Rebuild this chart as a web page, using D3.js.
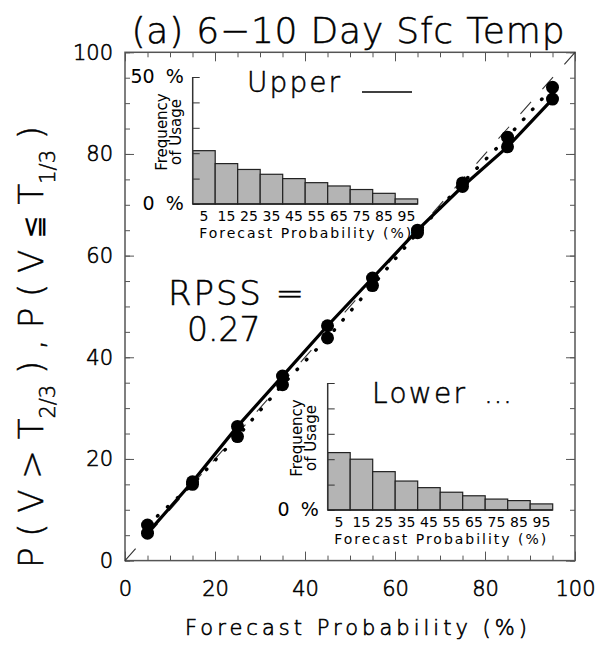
<!DOCTYPE html>
<html>
<head>
<meta charset="utf-8">
<script src="https://cdn.jsdelivr.net/npm/d3@7"></script>
<style>
  body { margin: 0; background: #fff; }
  svg { display: block; }
  text { font-family: "DejaVu Sans", sans-serif; font-weight: 400; fill: #000; }
  text.big { font-weight: 300; stroke: #000; stroke-width: 0.5px; }
</style>
</head>
<body>
<svg id="chart" width="603" height="653"></svg>
<script>
// forecast probability bins (%)
var bins = [5, 15, 25, 35, 45, 55, 65, 75, 85, 95];
// observed frequency, upper tercile (solid) and lower tercile (dotted)
var upperObs = [5.4, 15.5, 26.4, 36.3, 46.2, 55.6, 65.0, 73.6, 81.4, 90.8];
var lowerObs = [7.0, 15.0, 24.4, 34.6, 43.8, 54.1, 64.5, 74.3, 83.3, 93.1];
// frequency of usage (%) for each bin
var upperFreq = [21.0, 15.9, 13.6, 11.7, 10.0, 8.4, 7.1, 5.7, 4.2, 2.0];
var lowerFreq = [22.6, 20.0, 15.1, 11.4, 8.8, 7.0, 5.6, 4.3, 3.7, 2.4];
var mainTicks = [0, 20, 40, 60, 80, 100];
var insetTicks = [0, 10, 20, 30, 40, 50];

var svg = d3.select("#chart");
var axisCol = "#555";

var x = d3.scaleLinear().domain([0, 100]).range([125, 575]);
var y = d3.scaleLinear().domain([0, 100]).range([560.6, 52.3]);

// title
svg.append("text").attr("class", "big")
  .attr("x", 348).attr("y", 43)
  .attr("text-anchor", "middle")
  .attr("textLength", 433).attr("lengthAdjust", "spacing")
  .style("font-size", "36px")
  .text("(a) 6\u221210 Day Sfc Temp");

// frame
svg.append("rect")
  .attr("x", x(0)).attr("y", y(100))
  .attr("width", x(100) - x(0)).attr("height", y(0) - y(100))
  .attr("fill", "none").attr("stroke", axisCol).attr("stroke-width", 1.5);

function drawAxis(axis, tx, ty, labels) {
  var g = svg.append("g").attr("transform", "translate(" + tx + "," + ty + ")").call(axis);
  g.select(".domain").remove();
  g.selectAll(".tick line").attr("stroke", axisCol).attr("stroke-width", 1);
  if (labels) {
    g.selectAll(".tick text").attr("class", "big").style("font-size", "21px").attr("fill", "#000")
      .style("font-family", "DejaVu Sans").style("stroke-width", "0.6px");
  } else {
    g.selectAll(".tick text").remove();
  }
  return g;
}

var minor = d3.range(0, 101, 5);
drawAxis(d3.axisBottom(x).tickValues(minor).tickSize(-5), 0, y(0), false);
drawAxis(d3.axisBottom(x).tickValues(mainTicks).tickSize(-9).tickPadding(20), 0, y(0), true);
drawAxis(d3.axisTop(x).tickValues(minor).tickSize(-5), 0, y(100), false);
drawAxis(d3.axisTop(x).tickValues(mainTicks).tickSize(-9), 0, y(100), false);
drawAxis(d3.axisLeft(y).tickValues(minor).tickSize(-5), x(0), 0, false);
drawAxis(d3.axisLeft(y).tickValues(mainTicks).tickSize(-9).tickPadding(12), x(0), 0, true);
drawAxis(d3.axisRight(y).tickValues(minor).tickSize(-5), x(100), 0, false);
drawAxis(d3.axisRight(y).tickValues(mainTicks).tickSize(-9), x(100), 0, false);

// axis titles
svg.append("text").attr("class", "big")
  .attr("x", 356).attr("y", 635)
  .attr("text-anchor", "middle")
  .attr("textLength", 342).attr("lengthAdjust", "spacing")
  .style("font-size", "21px").style("stroke-width", "0.6px")
  .text("Forecast Probability (%)");

var yt = svg.append("text").attr("class", "big")
  .attr("transform", "translate(43,347) rotate(-90)")
  .attr("text-anchor", "middle")
  .style("font-size", "34px");
yt.append("tspan").text("P ( V > T");
yt.append("tspan").attr("baseline-shift", "sub").style("font-size", "21px").text("2/3");
yt.append("tspan").text(" ) , P ( V ");
yt.append("tspan").style("font-weight", 400).style("stroke-width", 0).style("font-size", "28px").text("\u2266");
yt.append("tspan").text(" T");
yt.append("tspan").attr("baseline-shift", "sub").style("font-size", "21px").text("1/3");
yt.append("tspan").text(" )");

// perfect reliability diagonal
var diag = svg.append("line")
  .attr("x1", x(0)).attr("y1", y(0)).attr("x2", x(100)).attr("y2", y(100))
  .attr("stroke", "#333").attr("stroke-width", 1.1);
var L = Math.hypot(x(100) - x(0), y(0) - y(100));
var dash = 16, period = (L - dash) / 20;
diag.attr("stroke-dasharray", dash + " " + (period - dash));

var line = d3.line().x(function(d) { return x(d[0]); }).y(function(d) { return y(d[1]); });
var upperPts = d3.zip(bins, upperObs);
var lowerPts = d3.zip(bins, lowerObs);

svg.append("path").datum(upperPts).attr("d", line)
  .attr("fill", "none").attr("stroke", "#000").attr("stroke-width", 3.2);
svg.append("path").datum(lowerPts).attr("d", line)
  .attr("fill", "none").attr("stroke", "#000").attr("stroke-width", 3.5)
  .attr("stroke-linecap", "round").attr("stroke-dasharray", "0.5 13");

svg.append("g").selectAll("circle").data(upperPts.concat(lowerPts)).enter()
  .append("circle")
  .attr("cx", function(d) { return x(d[0]); })
  .attr("cy", function(d) { return y(d[1]); })
  .attr("r", 6.5).attr("fill", "#000");

// RPSS
svg.append("text").attr("class", "big").attr("x", 168).attr("y", 305)
  .attr("textLength", 136).attr("lengthAdjust", "spacing")
  .style("font-size", "34px").text("RPSS =");
svg.append("text").attr("class", "big").attr("x", 187).attr("y", 341)
  .style("font-size", "33px").text("0.27");

// inset histograms
function inset(x0, yBottom, freq, showTop, label, labelX, labelY) {
  var bx = d3.scaleBand().domain(bins).range([x0, x0 + 225]).padding(0);
  var by = d3.scaleLinear().domain([0, 50]).range([yBottom, yBottom - 127]);
  var g = svg.append("g");

  g.selectAll("rect").data(freq).enter().append("rect")
    .attr("x", function(d, i) { return bx(bins[i]); })
    .attr("y", function(d) { return by(d); })
    .attr("width", bx.bandwidth())
    .attr("height", function(d) { return by(0) - by(d); })
    .attr("fill", "#b4b4b4").attr("stroke", "#222").attr("stroke-width", 1.2);

  var ax = g.append("g").attr("transform", "translate(" + x0 + ",0)")
    .call(d3.axisRight(by).tickValues(insetTicks).tickSize(7).tickFormat(""));
  ax.select(".domain").remove();
  ax.selectAll(".tick line").attr("stroke", "#333").attr("stroke-width", 1);
  g.append("line").attr("x1", x0).attr("x2", x0).attr("y1", by(0)).attr("y2", by(50))
    .attr("stroke", "#333").attr("stroke-width", 1.5);
  g.append("line").attr("x1", x0).attr("x2", x0 + 225).attr("y1", by(0)).attr("y2", by(0))
    .attr("stroke", "#222").attr("stroke-width", 1.5);

  g.selectAll(".binlab").data(bins).enter().append("text")
    .attr("x", function(d) { return bx(d) + bx.bandwidth() / 2; })
    .attr("y", by(0) + 17)
    .attr("text-anchor", "middle")
    .style("font-size", "14px")
    .text(function(d) { return d; });

  g.append("text").attr("x", x0 + 112.5).attr("y", by(0) + 34)
    .attr("text-anchor", "middle")
    .attr("textLength", 212).attr("lengthAdjust", "spacing")
    .style("font-size", "14px").text("Forecast Probability (%)");

  g.append("text").attr("x", x0 - 9).attr("y", by(0) + 6)
    .attr("text-anchor", "end").style("font-size", "19px").text("%");
  g.append("text").attr("x", x0 - 38).attr("y", by(0) + 6)
    .attr("text-anchor", "end").style("font-size", "19px").text("0");
  if (showTop) {
    g.append("text").attr("x", x0 - 9).attr("y", by(50) + 6)
      .attr("text-anchor", "end").style("font-size", "19px").text("%");
    g.append("text").attr("x", x0 - 38).attr("y", by(50) + 6)
      .attr("text-anchor", "end").style("font-size", "19px").text("50");
  }

  var fy = yBottom - 72;
  g.append("text").attr("transform", "translate(" + (x0 - 26) + "," + fy + ") rotate(-90)")
    .attr("text-anchor", "middle").style("font-size", "15px").text("Frequency");
  g.append("text").attr("transform", "translate(" + (x0 - 12) + "," + fy + ") rotate(-90)")
    .attr("text-anchor", "middle").style("font-size", "15px").text("of Usage");

  g.append("text").attr("class", "big").attr("x", labelX).attr("y", labelY)
    .attr("textLength", 93).attr("lengthAdjust", "spacing")
    .style("font-size", "28px").text(label);
}

inset(192.7, 204, upperFreq, true, "Upper", 247, 92);
inset(327.7, 510, lowerFreq, false, "Lower", 372, 403);

// legend marks
svg.append("line").attr("x1", 362).attr("x2", 412).attr("y1", 92).attr("y2", 92)
  .attr("stroke", "#000").attr("stroke-width", 1.3);
svg.append("text").attr("class", "big").attr("x", 484).attr("y", 403)
  .attr("textLength", 28).attr("lengthAdjust", "spacing")
  .style("font-size", "28px").text("...");
</script>
</body>
</html>
